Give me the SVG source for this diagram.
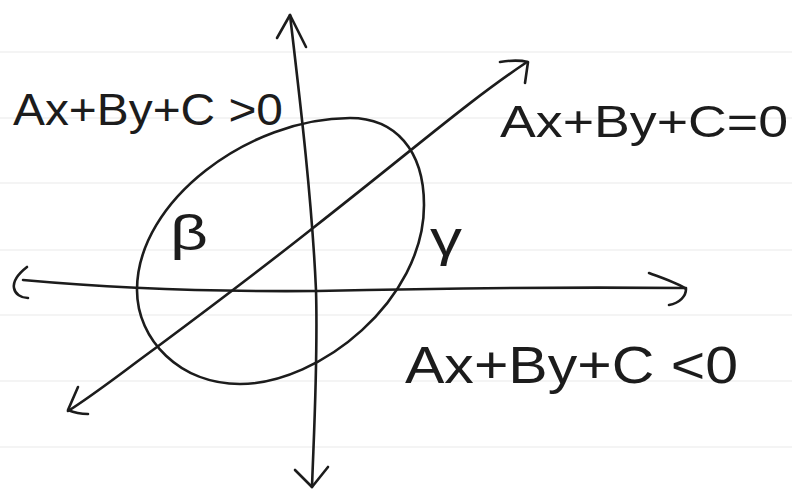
<svg xmlns="http://www.w3.org/2000/svg" width="792" height="491" viewBox="0 0 792 491">
  <style>
    .ink { fill: none; stroke: #1c1c1c; stroke-width: 2.6; stroke-linecap: round; stroke-linejoin: round; }
    .rule { stroke: #e9e9e9; stroke-width: 1.2; }
    .lbl { font-family: "Liberation Sans", Arial, sans-serif; fill: #1c1c1c; }
  </style>
  <rect x="0" y="0" width="792" height="491" fill="#ffffff"/>
  <g id="paper-lines">
    <line class="rule" x1="0" y1="52" x2="792" y2="52"/>
    <line class="rule" x1="0" y1="118" x2="792" y2="118"/>
    <line class="rule" x1="0" y1="183" x2="792" y2="183"/>
    <line class="rule" x1="0" y1="250" x2="792" y2="250"/>
    <line class="rule" x1="0" y1="315" x2="792" y2="315"/>
    <line class="rule" x1="0" y1="381" x2="792" y2="381"/>
    <line class="rule" x1="0" y1="447" x2="792" y2="447"/>
  </g>
  <g id="ellipse">
    <path class="ink" d="M 350,118 C 395,118 424,150 424,205 C 424,300 320,384 240,384 C 180,384 137,340 137,290 C 137,200 250,118 350,118 Z"/>
  </g>
  <g id="connectors">
    <g id="y-axis">
      <path class="ink" d="M 290,15 C 300,100 312,200 316,290 C 318,360 314,430 312,487"/>
      <path class="ink" d="M 277,38 L 290,15 L 306,47"/>
      <path class="ink" d="M 295,470 L 312,487 L 328,467"/>
    </g>
    <g id="x-axis">
      <path class="ink" d="M 23,280 C 100,287 200,292 317,291 C 450,288 580,287 686,288"/>
      <path class="ink" d="M 27,267 C 18,274 13,282 14,288 C 15,294 21,298 28,298"/>
      <path class="ink" d="M 649,273 C 665,279 680,284 686,289 C 686,296 680,303 669,305"/>
    </g>
    <g id="line-Ax-By-C">
      <path class="ink" d="M 527,62 C 470,100 420,144 313,228 C 260,270 200,315 157,347 C 120,374 95,394 68,411"/>
      <path class="ink" d="M 500,62 C 512,60 520,60 528,62 L 525,83"/>
      <path class="ink" d="M 78,387 L 68,410 C 75,413 82,414 88,414"/>
    </g>
  </g>
  <g id="label-positive">
    <text class="lbl" x="13" y="125" font-size="45" textLength="270" lengthAdjust="spacingAndGlyphs">Ax+By+C &gt;0</text>
  </g>
  <g id="label-zero">
    <text class="lbl" x="500" y="137" font-size="45" textLength="288" lengthAdjust="spacingAndGlyphs">Ax+By+C=0</text>
  </g>
  <g id="label-negative">
    <text class="lbl" x="405" y="383" font-size="52" textLength="333" lengthAdjust="spacingAndGlyphs">Ax+By+C &lt;0</text>
  </g>
  <g id="label-beta">
    <text class="lbl" x="170" y="250" font-size="50" textLength="38" lengthAdjust="spacingAndGlyphs">β</text>
  </g>
  <g id="label-gamma">
    <text class="lbl" x="430" y="256" font-size="50" textLength="32" lengthAdjust="spacingAndGlyphs">γ</text>
  </g>
</svg>
